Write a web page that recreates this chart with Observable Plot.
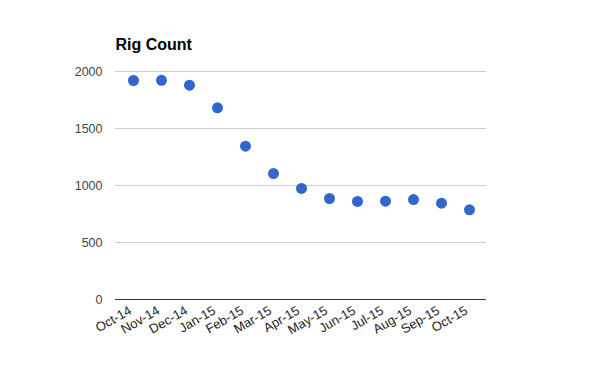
<!DOCTYPE html>
<html>
<head>
<meta charset="utf-8">
<script src="https://cdn.jsdelivr.net/npm/d3@7"></script>
<script src="https://cdn.jsdelivr.net/npm/@observablehq/plot@0.6"></script>
<style>
  html, body { margin: 0; padding: 0; background: #fff; }
  #chart svg { display: block; }
</style>
</head>
<body>
<div id="chart"></div>
<script>
const months = ["Oct-14","Nov-14","Dec-14","Jan-15","Feb-15","Mar-15","Apr-15","May-15","Jun-15","Jul-15","Aug-15","Sep-15","Oct-15"];
const rigCount = [1921, 1923, 1880, 1681, 1345, 1105, 974, 886, 860, 862, 877, 845, 787];
const yTicks = [0, 500, 1000, 1500, 2000];
const title = "Rig Count";

const data = months.map((m, i) => ({month: m, value: rigCount[i]}));

const chart = Plot.plot({
  width: 600,
  height: 371,
  marginLeft: 115,
  marginRight: 114,
  marginTop: 71,
  marginBottom: 72,
  style: {fontFamily: "Arial, 'Liberation Sans', sans-serif", fontSize: "12px", background: "#fff"},
  x: {type: "band", domain: months, padding: 0, label: null},
  y: {domain: [0, 2000], ticks: yTicks, label: null},
  marks: [
    Plot.ruleY(yTicks.filter(d => d > 0), {stroke: "#cccccc", strokeWidth: 1}),
    Plot.axisY({ticks: yTicks, tickFormat: d3.format("d"), tickSize: 0, tickPadding: 13, fill: "#444", fontSize: 12.5, label: null}),
    Plot.axisX({tickSize: 0, tickPadding: 10, tickRotate: -30, dx: -3, fill: "#222", fontSize: 13, label: null}),
    Plot.dot(data, {x: "month", y: "value", r: 5.5, fill: "#3366cc", stroke: null}),
    Plot.ruleY([0], {stroke: "#333333", strokeWidth: 1}),
    Plot.text([title], {frameAnchor: "top-left", text: d => d, dy: -33, dx: 0, fontSize: 16, fontWeight: "bold", fill: "#000", textAnchor: "start"})
  ]
});
document.getElementById("chart").appendChild(chart);
</script>
</body>
</html>
